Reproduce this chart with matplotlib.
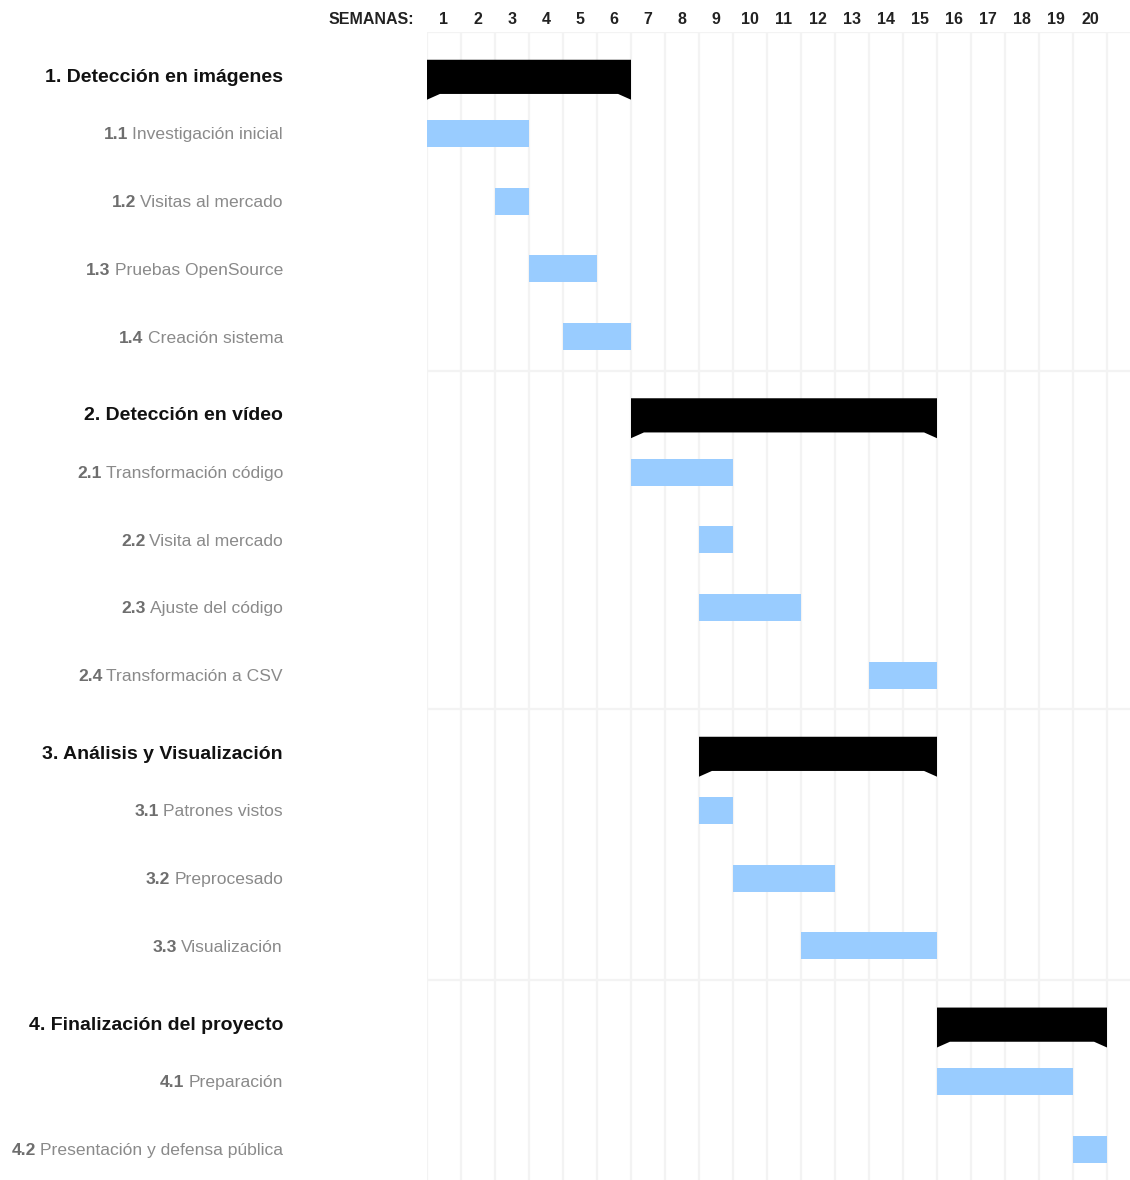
import matplotlib.pyplot as plt
from matplotlib.patches import Polygon
from matplotlib.transforms import blended_transform_factory
from matplotlib import font_manager

# data
groups = ["1. Detección en imágenes", "2. Detección en vídeo",
          "3. Análisis y Visualización", "4. Finalización del proyecto"]
group_start = [0, 6, 8, 15]
group_end = [6, 15, 15, 20]

task_group = [0, 0, 0, 0, 1, 1, 1, 1, 2, 2, 2, 3, 3]
task_ids = ["1.1", "1.2", "1.3", "1.4", "2.1", "2.2", "2.3", "2.4",
            "3.1", "3.2", "3.3", "4.1", "4.2"]
task_names = ["Investigación inicial", "Visitas al mercado", "Pruebas OpenSource",
              "Creación sistema", "Transformación código", "Visita al mercado",
              "Ajuste del código", "Transformación a CSV", "Patrones vistos",
              "Preprocesado", "Visualización", "Preparación",
              "Presentación y defensa pública"]
task_start = [0, 2, 3, 4, 6, 8, 8, 13, 8, 9, 11, 15, 19]
task_end = [3, 3, 5, 6, 9, 9, 11, 15, 9, 12, 15, 19, 20]

weeks = [str(i) for i in range(1, 21)]

names = {f.name for f in font_manager.fontManager.ttflist}
fam = ["Liberation Sans Narrow"] if "Liberation Sans Narrow" in names else ["Liberation Sans"]
plt.rcParams['font.family'] = fam + ["DejaVu Sans"]

W, H = 1130, 1180
fig = plt.figure(figsize=(W / 100, H / 100), dpi=100)
x0, top, pitch, wk = 427, 32, 67.7, 34
nrows = sum(1 + task_group.count(g) for g in range(len(groups)))
bottom = top + nrows * pitch
ax = fig.add_axes([x0 / W, 1 - bottom / H, (W - x0) / W, (bottom - top) / H])
ax.set_xlim(0, (W - x0) / wk)
ax.set_ylim(nrows, 0)
ax.axis("off")

grid_c = "#f3f3f3"
for i in range(0, 22):
    ax.axvline(i, color=grid_c, lw=1.6, zorder=0)

lab_tr = blended_transform_factory(fig.transFigure, ax.transData)
lx = 283 / W
fig.canvas.draw()
rend = fig.canvas.get_renderer()

row = 0
for g, gname in enumerate(groups):
    ax.axhline(row, color=grid_c, lw=1.6, zorder=0)
    s, e = group_start[g], group_end[g]
    n = 0.38
    poly = Polygon([(s, row + 0.41), (e, row + 0.41), (e, row + 1.0), (e - n, row + 0.915),
                    (s + n, row + 0.915), (s, row + 1.0)], closed=True,
                   facecolor="black", edgecolor="none", zorder=3)
    ax.add_patch(poly)
    ax.text(lx, row + 0.67, gname, transform=lab_tr, ha="right", va="center",
            fontsize=14, fontweight="bold", color="#111111")
    row += 1
    for t in range(len(task_ids)):
        if task_group[t] != g:
            continue
        ax.barh(row + 0.5, task_end[t] - task_start[t], left=task_start[t], height=0.4,
                color="#99ccff", zorder=3)
        txt = ax.text(lx, row + 0.52, task_names[t], transform=lab_tr, ha="right",
                      va="center", fontsize=12.6, color="#8a8a8a")
        bb = txt.get_window_extent(renderer=rend)
        ax.text((bb.x0 - 4) / W, row + 0.52, task_ids[t], transform=lab_tr, ha="right",
                va="center", fontsize=12.6, fontweight="bold", color="#6e6e6e")
        row += 1

for i, w in enumerate(weeks):
    fig.text((x0 + (i + 0.5) * wk) / W, 1 - 20 / H, w, ha="center", va="center",
             fontsize=11.5, fontweight="bold", color="#222222")
fig.text(414 / W, 1 - 20 / H, "SEMANAS:", ha="right", va="center",
         fontsize=11.5, fontweight="bold", color="#222222")

fig.savefig("out.png", dpi=100)
